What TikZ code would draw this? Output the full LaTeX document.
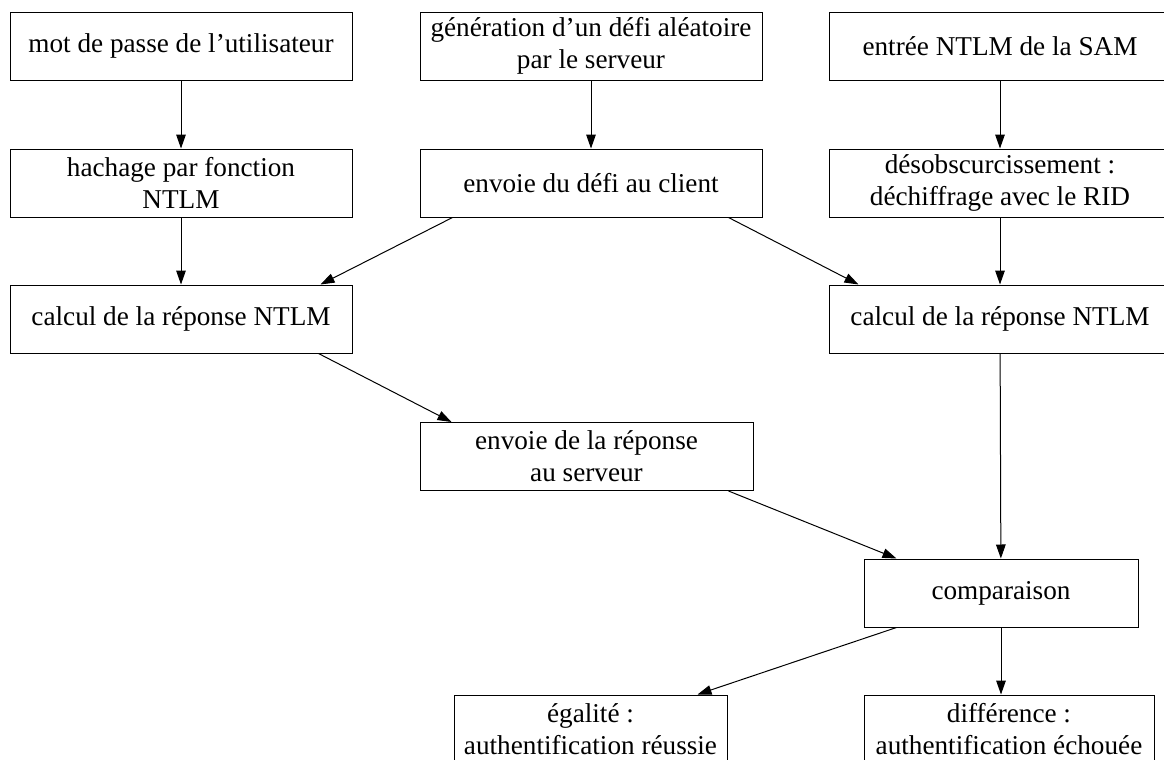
\documentclass[tikz,border=0pt]{standalone}
\usepackage{fontspec}
\setmainfont{Liberation Serif}
\usetikzlibrary{arrows.meta}

\begin{document}
\begin{tikzpicture}[x=0.5pt,y=-0.5pt,
  etape/.style={draw=black,line width=0.5pt,align=center,inner sep=0pt,
    minimum width=171pt,minimum height=34pt,
    font=\fontsize{13.6}{13}\selectfont},
  flux/.style={line width=0.5pt,-{Triangle[length=7pt,width=4.8pt]}}]
\useasboundingbox (0,0) rectangle (1164,760);

\node[etape] (mdp) at (181,46) {mot de passe de l'utilisateur};
\node[etape] (gen) at (591,46) {génération d'un défi aléatoire\\[3pt]par le serveur};
\node[etape] (sam) at (1000,46) {entrée NTLM de la SAM};

\node[etape] (hach) at (181,183) {hachage par fonction\\[3pt]NTLM};
\node[etape] (envdefi) at (591,183) {envoie du défi au client};
\node[etape] (desobs) at (1000,183) {désobscurcissement :\\[3pt]déchiffrage avec le RID};

\node[etape] (calcL) at (181,319) {calcul de la réponse NTLM};
\node[etape] (calcR) at (1000,319) {calcul de la réponse NTLM};

\node[etape,minimum width=166.5pt] (envrep) at (586.5,456.5) {envoie de la réponse\\[3pt]au serveur};
\node[etape,minimum width=137pt] (comp) at (1001,593) {comparaison};

\node[etape,minimum width=136.5pt] (egal) at (590.5,729) {égalité :\\[3pt]authentification réussie};
\node[etape,minimum width=145pt] (diff) at (1009,729) {différence :\\[3pt]authentification échouée};

% flux
\draw[flux] (mdp) -- (hach);
\draw[flux] (hach) -- (calcL);
\draw[flux] (gen) -- (envdefi);
\draw[flux] (sam) -- (desobs);
\draw[flux] (desobs) -- (calcR);
\draw[flux] ([xshift=16.5pt]envdefi.south west) -- ([xshift=-16pt]calcL.north east);
\draw[flux] ([xshift=-17pt]envdefi.south east) -- ([xshift=15pt]calcR.north west);
\draw[flux] ([xshift=-17pt]calcL.south east) -- ([xshift=16pt]envrep.north west);
\draw[flux] ([xshift=-12.5pt]envrep.south east) -- ([xshift=16.5pt]comp.north west);
\draw[flux] (calcR) -- (comp);
\draw[flux] ([xshift=16.5pt]comp.south west) -- ([xshift=-15pt]egal.north east);
\draw[flux] (comp.south) -- (comp.south |- diff.north);

\end{tikzpicture}
\end{document}
